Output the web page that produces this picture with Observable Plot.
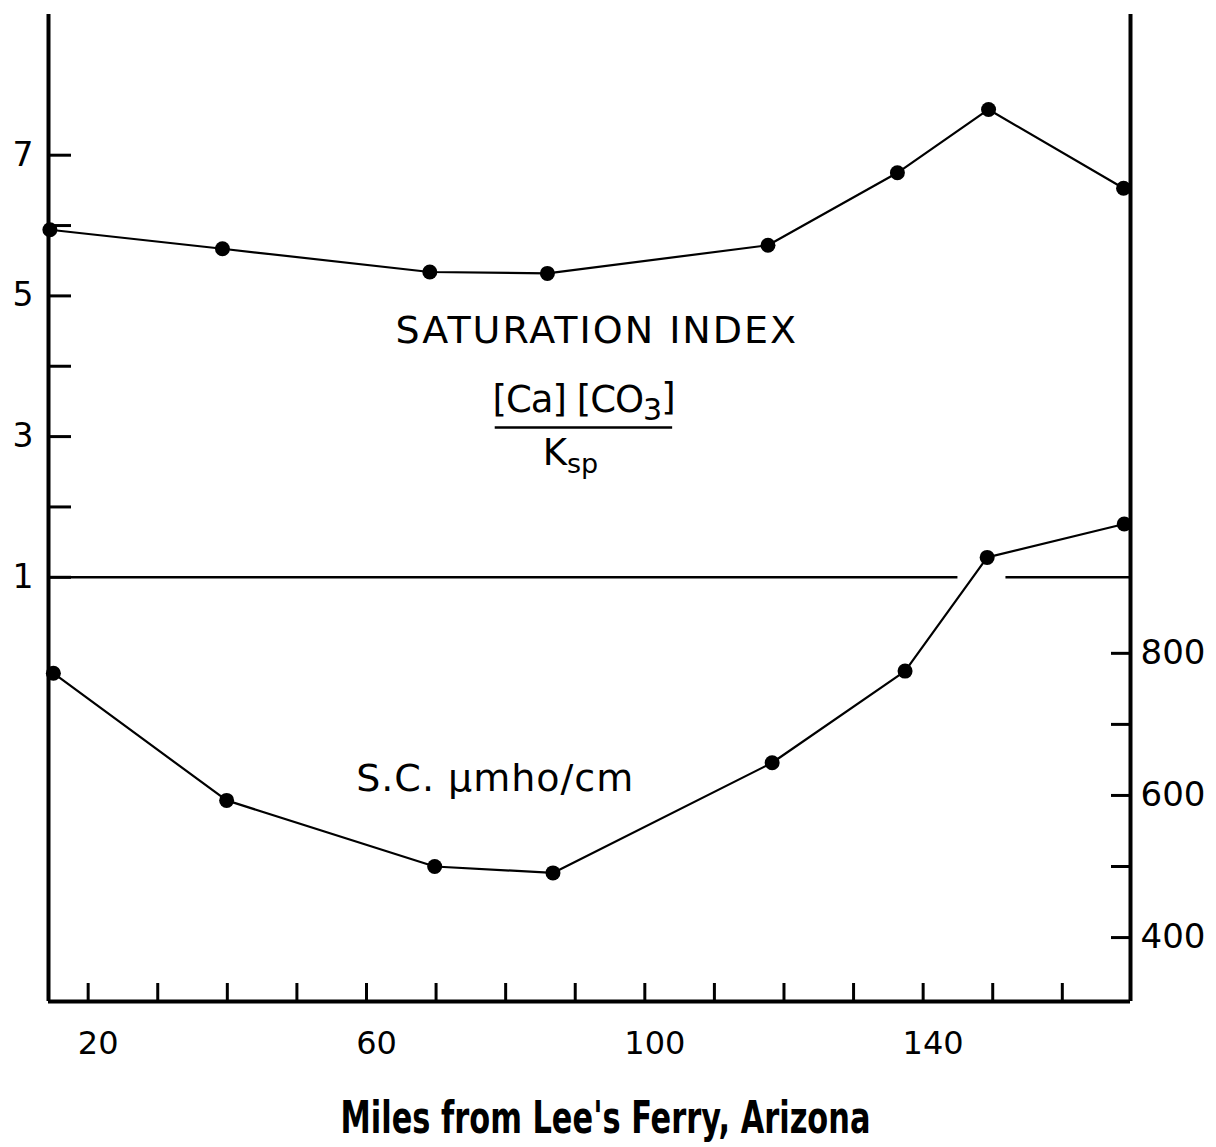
<!DOCTYPE html>
<html>
<head>
<meta charset="utf-8">
<script src="https://cdn.jsdelivr.net/npm/d3@7"></script>
<script src="https://cdn.jsdelivr.net/npm/@observablehq/plot@0.6"></script>
<style>
  html, body { margin: 0; padding: 0; background: #fff; }
  #chart svg { display: block; }
</style>
</head>
<body>
<div id="chart"></div>
<script>
// ---- Data ----
const satMiles  = [14.5, 39.3, 69.1, 86.0, 117.7, 136.3, 149.4, 168.8];
const satIndex  = [5.94, 5.67, 5.34, 5.32, 5.72, 6.75, 7.65, 6.53];
const scMiles   = [15.0, 39.9, 69.8, 86.8, 118.3, 137.4, 149.2, 168.9];
const scValues  = [772, 593, 500, 491, 646, 775, 935, 982];

// ---- Ticks ----
const xTicks      = [20, 30, 40, 50, 60, 70, 80, 90, 100, 110, 120, 130, 140, 150, 160];
const xLabels     = [20, 60, 100, 140];
const leftTicks   = [1, 2, 3, 4, 5, 6, 7];
const leftLabels  = [1, 3, 5, 7];
const rightTicks  = [400, 500, 600, 700, 800];
const rightLabels = [400, 600, 800];

// saturation = 1 reference line, with a break where the S.C. curve crosses it
const refLevel = 1;
const refBreak = [145.0, 151.9];

// ---- Scales ----
const xDomain = [14.3, 169.8];
const yDomain = [-5.03, 9.0];
// right axis (S.C. µmho/cm) expressed on the left (saturation) scale
const toV = sc => (sc - 808) / 99;
const fromV = v => v * 99 + 808;

const satData = satMiles.map((m, i) => ({mile: m, v: satIndex[i]}));
const scData  = scMiles.map((m, i) => ({mile: m, v: toV(scValues[i])}));
const refSegs = [
  {x1: xDomain[0], x2: refBreak[0], y: refLevel},
  {x1: refBreak[1], x2: xDomain[1], y: refLevel}
];

const chart = Plot.plot({
  width: 1216,
  height: 1147,
  marginLeft: 48,
  marginRight: 86,
  marginTop: 14,
  marginBottom: 146,
  style: {fontFamily: "'DejaVu Sans', sans-serif", background: "#fff", color: "#000"},
  x: {domain: xDomain},
  y: {domain: yDomain},
  marks: [
    // frame lines (left, right, bottom)
    Plot.ruleX([xDomain[0]], {stroke: "#000", strokeWidth: 4}),
    Plot.ruleX([xDomain[1]], {stroke: "#000", strokeWidth: 4}),
    Plot.ruleY([yDomain[0]], {stroke: "#000", strokeWidth: 4}),

    // left axis
    Plot.axisY({anchor: "left", ticks: leftTicks, tickSize: -23, strokeWidth: 3, tickFormat: () => ""}),
    Plot.axisY({anchor: "left", ticks: leftLabels, tickSize: 0, tickPadding: 15, fontSize: 33, tickFormat: d => String(d)}),
    // right axis
    Plot.axisY({anchor: "right", ticks: rightTicks.map(toV), tickSize: -20, strokeWidth: 3, tickFormat: () => ""}),
    Plot.axisY({anchor: "right", ticks: rightLabels.map(toV), tickSize: 0, tickPadding: 10, fontSize: 34, tickFormat: v => String(Math.round(fromV(v)))}),
    // bottom axis
    Plot.axisX({anchor: "bottom", ticks: xTicks, tickSize: -18, strokeWidth: 3, tickFormat: () => ""}),
    Plot.axisX({anchor: "bottom", ticks: xLabels, tickSize: 0, tickPadding: 30, dx: 10, fontSize: 32, tickFormat: d => String(d)}),

    // reference line at saturation index 1
    Plot.ruleY(refSegs, {x1: "x1", x2: "x2", y: "y", stroke: "#000", strokeWidth: 2.5}),

    // series
    Plot.line(satData, {x: "mile", y: "v", stroke: "#000", strokeWidth: 2.2}),
    Plot.dot(satData, {x: "mile", y: "v", r: 7.5, fill: "#000"}),
    Plot.line(scData, {x: "mile", y: "v", stroke: "#000", strokeWidth: 2.2}),
    Plot.dot(scData, {x: "mile", y: "v", r: 7.5, fill: "#000"}),

    // annotations
    Plot.text(["SATURATION INDEX"], {x: 93.1, y: 4.51, text: d => d, fontSize: 38, textAnchor: "middle", fill: "#000", className: "sat-title"}),
    Plot.text(["[Ca] [CO3]"], {x: 91.2, y: 3.52, text: d => d, fontSize: 37, textAnchor: "middle", fill: "#000", className: "frac-num"}),
    Plot.ruleY([{x1: 78.5, x2: 104.0, y: 3.13}], {x1: "x1", x2: "x2", y: "y", stroke: "#000", strokeWidth: 2.5}),
    Plot.text(["Ksp"], {x: 89.3, y: 2.76, text: d => d, fontSize: 37, textAnchor: "middle", fill: "#000", className: "frac-den"}),
    Plot.text(["S.C. μmho/cm"], {x: 78.5, y: -1.86, text: d => d, fontSize: 38, textAnchor: "middle", fill: "#000", className: "sc-title"}),

    // x axis title
    Plot.text(["Miles from Lee's Ferry, Arizona"], {frameAnchor: "bottom", dy: 131, dx: 16, lineAnchor: "bottom", text: d => d, fontSize: 44, fontWeight: "bold", fill: "#000", className: "x-title"})
  ]
});

document.getElementById("chart").appendChild(chart);

// typographic touches: subscripts, spacing
const svg = d3.select(chart);
svg.select("g.sat-title text").style("letter-spacing", "2px");
svg.select("g.sc-title text").style("letter-spacing", "1px");
svg.select("g.x-title text")
  .attr("textLength", 530)
  .attr("lengthAdjust", "spacingAndGlyphs")
  .style("font-family", "'Liberation Sans Narrow', 'DejaVu Sans Condensed', 'DejaVu Sans', sans-serif");

const num = svg.select("g.frac-num text");
num.text(null).style("letter-spacing", "-1px");
num.append("tspan").text("[Ca] [CO");
num.append("tspan").attr("dy", "0.28em").style("font-size", "30px").text("3");
num.append("tspan").attr("dy", "-0.28em").text("]");

const den = svg.select("g.frac-den text");
den.text(null);
den.append("tspan").text("K");
den.append("tspan").attr("dy", "0.3em").style("font-size", "27px").text("sp");
</script>
</body>
</html>
